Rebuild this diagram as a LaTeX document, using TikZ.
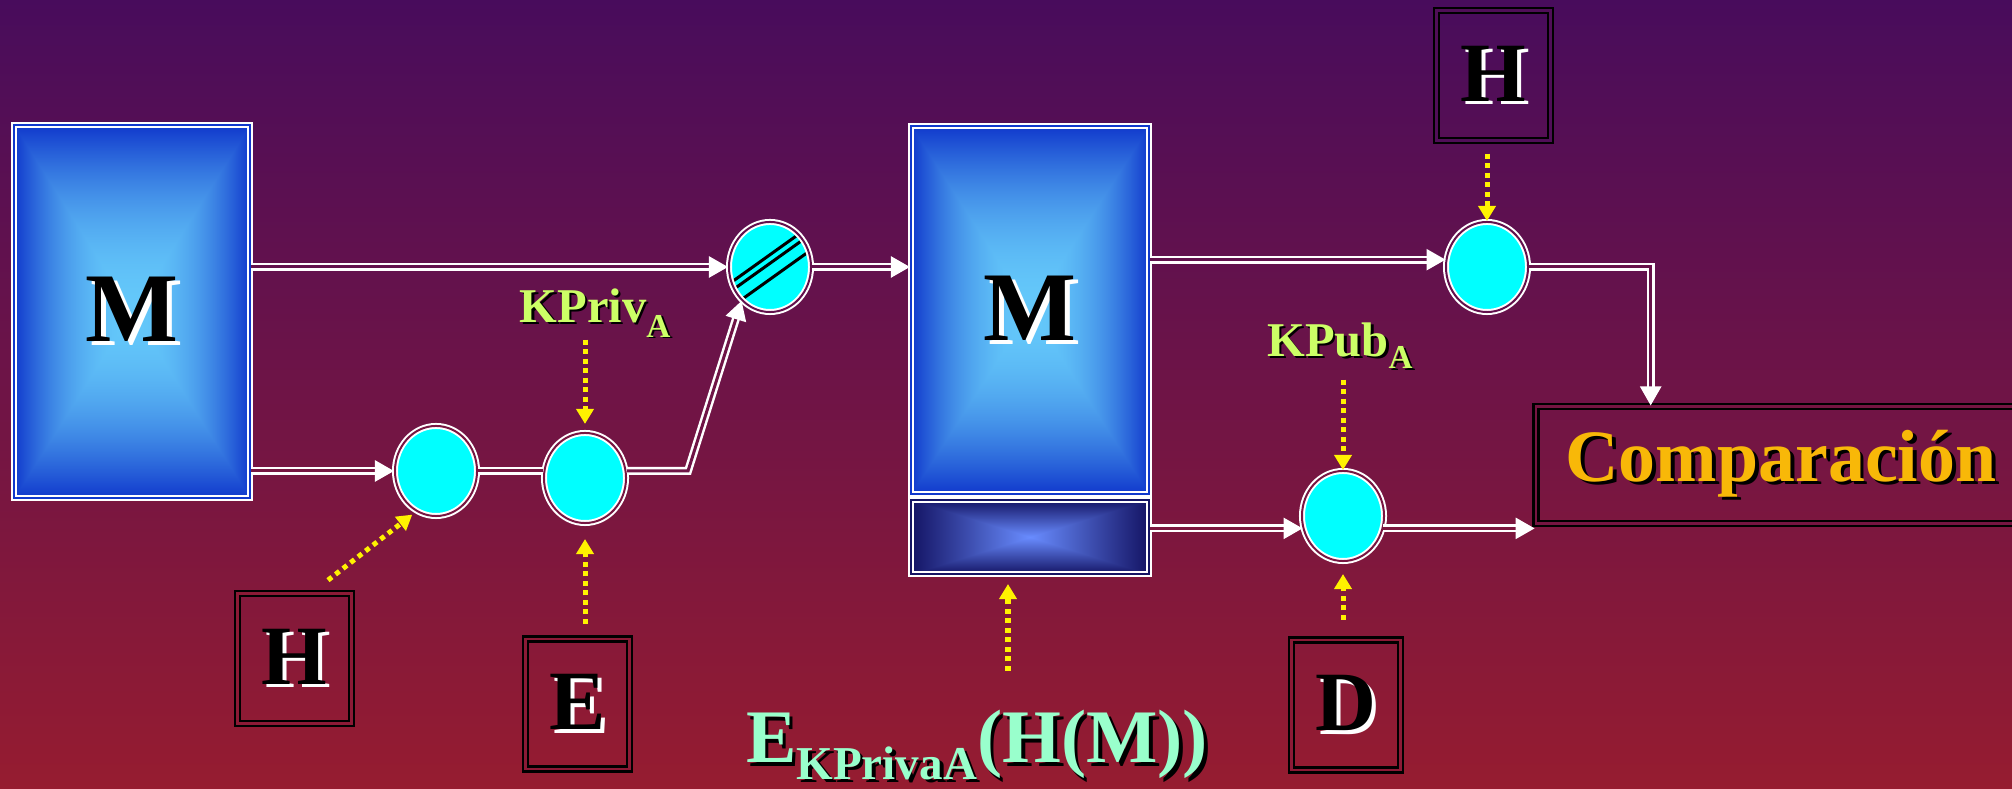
\documentclass[tikz,border=0pt]{standalone}
\usepackage{fontspec}
\setmainfont{Liberation Serif}
\usepackage{tikz}
\usetikzlibrary{positioning,arrows.meta,shapes.geometric}
\definecolor{bgtop}{RGB}{72,12,92}
\definecolor{bgbot}{RGB}{150,28,48}
\definecolor{boxedge}{RGB}{16,56,204}
\definecolor{sigedge}{RGB}{20,20,100}
\definecolor{opfill}{RGB}{0,255,255}
\definecolor{keygreen}{RGB}{204,255,102}
\definecolor{mint}{RGB}{153,255,204}
\definecolor{gold}{RGB}{248,184,8}
\newcommand{\shadowtext}[3]{\rlap{\hspace{0.05em}\raisebox{-0.04em}{\textcolor{#2}{#3}}}\textcolor{#1}{#3}}
% light centre, dark edges, rectangular
\pgfdeclarefunctionalshading{msgglow}{\pgfpoint{-50bp}{-50bp}}{\pgfpoint{50bp}{50bp}}{}{
  abs exch abs 2 copy lt {exch} if pop 25 div dup 1 gt {pop 1} if dup mul
  dup -0.329 mul 0.392 add exch dup -0.564 mul 0.784 add exch -0.180 mul 0.980 add}
\pgfdeclarefunctionalshading{sigglow}{\pgfpoint{-50bp}{-50bp}}{\pgfpoint{50bp}{50bp}}{}{
  abs exch abs 2 copy lt {exch} if pop 25 div dup 1 gt {pop 1} if
  dup -0.334 mul 0.412 add exch dup -0.471 mul 0.549 add exch -0.608 mul 1.0 add}

\begin{document}
\begin{tikzpicture}[x=0.01cm, y=-0.01cm,
    msgbox/.style={rectangle, shading=msgglow, draw=white, double=boxedge, line width=0.02cm, double distance=0.02cm, minimum width=2.36cm, minimum height=3.73cm, font=\fontsize{28}{30}\selectfont\bfseries},
    sigbox/.style={rectangle, shading=sigglow, draw=white, double=sigedge, line width=0.02cm, double distance=0.02cm, minimum width=2.38cm, minimum height=0.74cm},
    opnode/.style={ellipse, fill=opfill, draw=white, double=#1, line width=0.02cm, double distance=0.02cm, minimum width=0.82cm, minimum height=0.90cm, inner sep=0pt},
    opnode/.default={bgbot!60!bgtop},
    keybox/.style={rectangle, draw=black, double=#1, line width=0.025cm, double distance=0.025cm, minimum width=1.10cm, minimum height=1.295cm, font=\fontsize{24}{26}\selectfont\bfseries},
    keybox/.default={bgbot!87!bgtop},
    keylabel/.style={inner sep=0pt, font=\fontsize{13.8}{15}\selectfont\bfseries},
    wire/.style={draw=white, double=bgbot!#1!bgtop, line width=0.025cm, double distance=0.03cm, -{Triangle[width=0.21cm,length=0.19cm]}},
    link/.style={wire=#1, -},
    keyarrow/.style={draw=yellow, line width=0.05cm, dash pattern=on 0.05cm off 0.045cm, -{Triangle[width=0.17cm,length=0.15cm]}}
    ]
        \useasboundingbox (0,0) rectangle (2012,789);
        \shade[top color=bgtop, bottom color=bgbot] (0,0) rectangle (2012,789);

        %Nodes
        \node[msgbox, shade]
            (m1)    at (132,311.5)      {\shadowtext{black}{white}{M}};
        \node[opnode]
            (c1)    at (436,471)        {};
        \node[opnode]
            (c2)    at (585,478)        {};
        \node[opnode=bgbot!34!bgtop, path picture={
                \foreach \d in {-10,-3,10}
                    \draw[black, line width=0.03cm, shift={(path picture bounding box.center)}]
                        ({0.581*\d-57},{0.814*\d+40.7}) -- ({0.581*\d+57},{0.814*\d-40.7});}]
            (x1)    at (770,267)        {};
        \node[msgbox, shade, minimum width=2.38cm, minimum height=3.68cm]
            (m2)    at (1030,310)       {\shadowtext{black}{white}{M}};
        \node[sigbox, shade]
            (sig)   at (1030,537)       {};
        \node[opnode=bgbot!34!bgtop]
            (ch)    at (1487,267)       {};
        \node[opnode]
            (cd)    at (1343,516)       {};
        \node[keybox=bgbot!59!bgtop, minimum width=4.90cm, minimum height=1.165cm, font=\fontsize{21}{23}\selectfont\bfseries]
            (comp)  at (1781,465)       {\shadowtext{gold}{black}{Comparación}};
        \node[keybox, minimum width=1.135cm]
            (h1)    at (294.5,658.5)    {\shadowtext{black}{white}{H}};
        \node[keybox, minimum width=1.035cm]
            (e)     at (577.5,704)      {\shadowtext{black}{white}{E}};
        \node[keybox, minimum width=1.085cm]
            (d)     at (1346,705)       {\shadowtext{black}{white}{D}};
        \node[keybox=bgbot!10!bgtop, minimum width=1.135cm]
            (h2)    at (1493.5,75.5)    {\shadowtext{black}{white}{H}};
        \node[keylabel, anchor=base]
            (kpriv) at (595,323)        {\shadowtext{keygreen}{black}{KPriv\raisebox{-4pt}{\fontsize{9.5}{10}\selectfont A}}};
        \node[keylabel, anchor=base]
            (kpub)  at (1340,357)       {\shadowtext{keygreen}{black}{KPub\raisebox{-3.4pt}{\fontsize{9.5}{10}\selectfont A}}};
        \node[keylabel, anchor=base, font=\fontsize{21.5}{23}\selectfont\bfseries]
            (eh)    at (977,763)        {\shadowtext{mint}{black}{E\raisebox{-4.6pt}{\fontsize{13.4}{14}\selectfont KPrivaA}(H(M))}};
        \coordinate (bend) at (688,471);
        \coordinate (sigin) at ([xshift=-0.22cm]sig.south);

        %Lines
        \draw[wire=34] (m1.east |- x1.west) -- (x1.west);
        \draw[wire=60] (m1.east |- c1.west) -- (c1.west);
        \draw[link=60] (c1.east) -- (c1.east -| c2.west);
        \draw[wire=50] (c2.east |- c1.east) -- (bend) -- (x1.230);
        \draw[wire=34] (x1.east) -- (m2.west |- x1.east);
        \draw[wire=33] (m2.east |- ch.170) -- (ch.170);
        \draw[wire=40] (ch.east) -| ([xshift=1.16cm]comp.north west);
        \draw[wire=67] (sig.east |- cd.197) -- (cd.197);
        \draw[wire=67] (cd.-17) -- (comp.west |- cd.-17);

        %Keys
        \draw[keyarrow, shorten >=0.08cm] (c2.north |- kpriv.south) -- (c2.north);
        \draw[keyarrow, shorten <=0.2cm, shorten >=0.05cm] (h1.75) -- (c1.244);
        \draw[keyarrow, shorten <=0.14cm, shorten >=0.15cm] (c2.south |- e.north) -- (c2.south);
        \draw[keyarrow, shorten <=0.39cm, shorten >=0.09cm] (sigin |- eh.north) -- (sigin);
        \draw[keyarrow, shorten <=0.12cm] (ch.north |- h2.south) -- (ch.north);
        \draw[keyarrow, shorten <=0.08cm] (cd.north |- kpub.south) -- (cd.north);
        \draw[keyarrow, shorten <=0.19cm, shorten >=0.12cm] (cd.south |- d.north) -- (cd.south);
    \end{tikzpicture}
\end{document}
